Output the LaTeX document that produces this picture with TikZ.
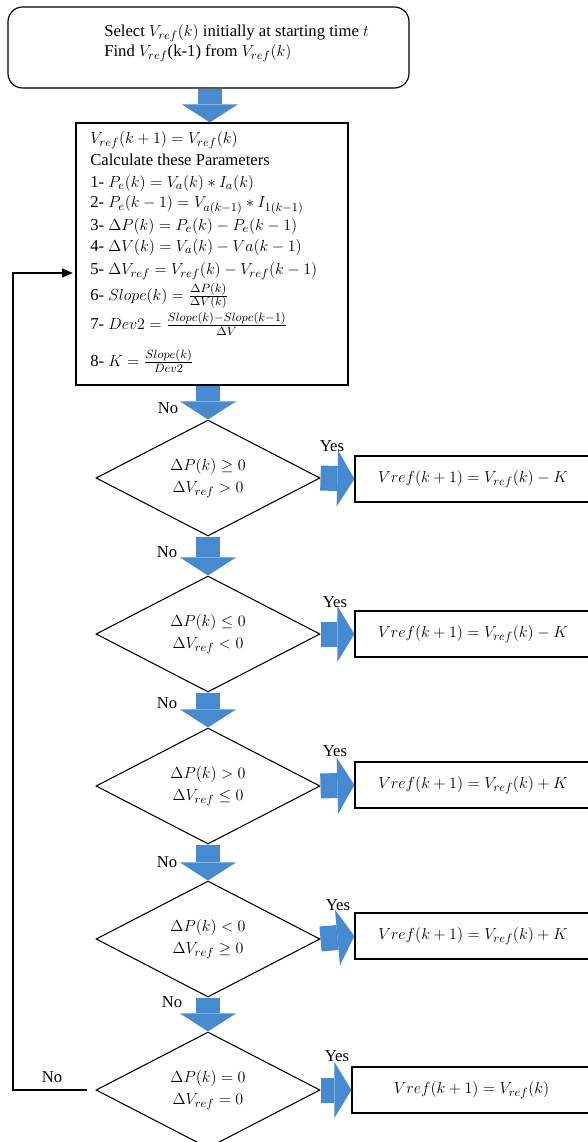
\documentclass[tikz,border=0pt]{standalone}
\usepackage{fontspec}
\setmainfont{Liberation Serif}
\usetikzlibrary{shapes.geometric,arrows.meta}
\definecolor{arrowblue}{RGB}{72,138,208}
\begin{document}
\begin{tikzpicture}[x=0.75pt,y=-0.75pt,
  txt/.style={font=\fontsize{12.5}{15}\selectfont, inner sep=0pt, anchor=west},
  startbox/.style={draw, rounded corners=11pt, line width=0.9pt, minimum width=300.75pt, minimum height=60.75pt},
  procbox/.style={draw, line width=0.9pt, minimum width=204pt, minimum height=196.5pt},
  decision/.style={diamond, aspect=1.93, draw, line width=0.8pt, minimum width=168pt, minimum height=87pt, inner sep=0pt, align=center, font=\fontsize{12.5}{16.5}\selectfont},
  resbox/.style={draw, line width=0.9pt, minimum width=177pt, minimum height=34.5pt, font=\fontsize{12.5}{15}\selectfont},
  blockarrow/.style={draw=arrowblue, line width=18pt, -{Triangle[width=42pt,length=13.5pt,line width=0pt,color=arrowblue,fill=arrowblue]}},
  sidearrow/.style={draw=arrowblue, line width=18.75pt, -{Triangle[width=42pt,length=12.75pt,line width=0pt,color=arrowblue,fill=arrowblue]}},
  fbline/.style={draw=black, line width=2pt, -{Triangle[width=7pt,length=8pt,line width=0pt]}},
  lbl/.style={font=\fontsize{12.5}{15}\selectfont, inner sep=0pt}
]
\useasboundingbox (0,0) rectangle (587,1142);

% start box
\node[startbox] (start) at (208.5,47.5) {};
\node[txt, align=left] (starttxt) at (104,43) {Select $V_{ref}(k)$ initially at starting time $t$\\Find $V_{ref}$(k-1) from $V_{ref}(k)$};

% process box
\node[procbox] (proc) at (212,254) {};
\node[txt] (p0) at (90,140) {$V_{ref}(k+1) = V_{ref}(k)$};
\node[txt] (p1) at (90,160) {Calculate these Parameters};
\node[txt] (p2) at (90,183) {1- $P_e(k) = V_a(k) \ast I_a(k)$};
\node[txt] (p3) at (90,205) {2- $P_e(k-1) = V_{a(k-1)} \ast I_{1(k-1)}$};
\node[txt] (p4) at (90,226) {3- $\Delta P(k) = P_e(k) - P_e(k-1)$};
\node[txt] (p5) at (90,247) {4- $\Delta V(k) = V_a(k) - Va(k-1)$};
\node[txt] (p6) at (90,271) {5- $\Delta V_{ref} = V_{ref}(k) - V_{ref}(k-1)$};
\node[txt] (p7) at (90,296) {6- $Slope(k) = \frac{\Delta P(k)}{\Delta V(k)}$};
\node[txt] (p8) at (90,324) {7- $Dev2 = \frac{Slope(k)-Slope(k-1)}{\Delta V}$};
\node[txt] (p9) at (90,361) {8- $K = \frac{Slope(k)}{Dev2}$};

% decisions
\node[decision] (d1) at (208,478) {$\Delta P(k) \geq 0$\\$\Delta V_{ref} > 0$};
\node[decision] (d2) at (208,634) {$\Delta P(k) \leq 0$\\$\Delta V_{ref} < 0$};
\node[decision] (d3) at (208,786) {$\Delta P(k) > 0$\\$\Delta V_{ref} \leq 0$};
\node[decision] (d4) at (208,939) {$\Delta P(k) < 0$\\$\Delta V_{ref} \geq 0$};
\node[decision] (d5) at (208,1090) {$\Delta P(k) = 0$\\$\Delta V_{ref} = 0$};

% results
\node[resbox] (r1) at (473,479) {$Vref(k+1) = V_{ref}(k) - K$};
\node[resbox] (r2) at (473,634) {$Vref(k+1) = V_{ref}(k) - K$};
\node[resbox] (r3) at (473,785) {$Vref(k+1) = V_{ref}(k) + K$};
\node[resbox] (r4) at (473,936) {$Vref(k+1) = V_{ref}(k) + K$};
\node[resbox, minimum width=179.25pt] (r5) at (471.5,1090) {$Vref(k+1) = V_{ref}(k)$};

% block arrows down
\draw[blockarrow] ([xshift=1pt]start.south) -- ([xshift=1pt]start.south |- proc.north);
\draw[blockarrow] (proc.south -| d1.north) -- (d1.north);
\draw[blockarrow] (d1.south) -- (d2.north);
\draw[blockarrow] (d2.south) -- (d3.north);
\draw[blockarrow] (d3.south) -- (d4.north);
\draw[blockarrow] (d4.south) -- (d5.north);

% block arrows right
\draw[sidearrow] (d1.east) -- (r1.west);
\draw[sidearrow] (d2.east) -- (r2.west);
\draw[sidearrow] (d3.east) -- (r3.west);
\draw[sidearrow] (d4.east) -- (r4.west);
\draw[sidearrow] (d5.east) -- (r5.west);

% feedback
\coordinate (fbtop) at (13,273);
\draw[fbline] ([xshift=-6pt]d5.west) -| (fbtop) -- ([xshift=-2pt]proc.west |- fbtop);

% labels
\node[lbl] (no0) at (168,408) {No};
\node[lbl] (no1) at (167,552) {No};
\node[lbl] (no2) at (167,703) {No};
\node[lbl] (no3) at (167,862) {No};
\node[lbl] (no4) at (172,1002) {No};
\node[lbl] (no5) at (52,1077) {No};
\node[lbl] (yes1) at (332,446) {Yes};
\node[lbl] (yes2) at (335,602) {Yes};
\node[lbl] (yes3) at (335,751) {Yes};
\node[lbl] (yes4) at (338,905) {Yes};
\node[lbl] (yes5) at (337,1056) {Yes};
\end{tikzpicture}
\end{document}
